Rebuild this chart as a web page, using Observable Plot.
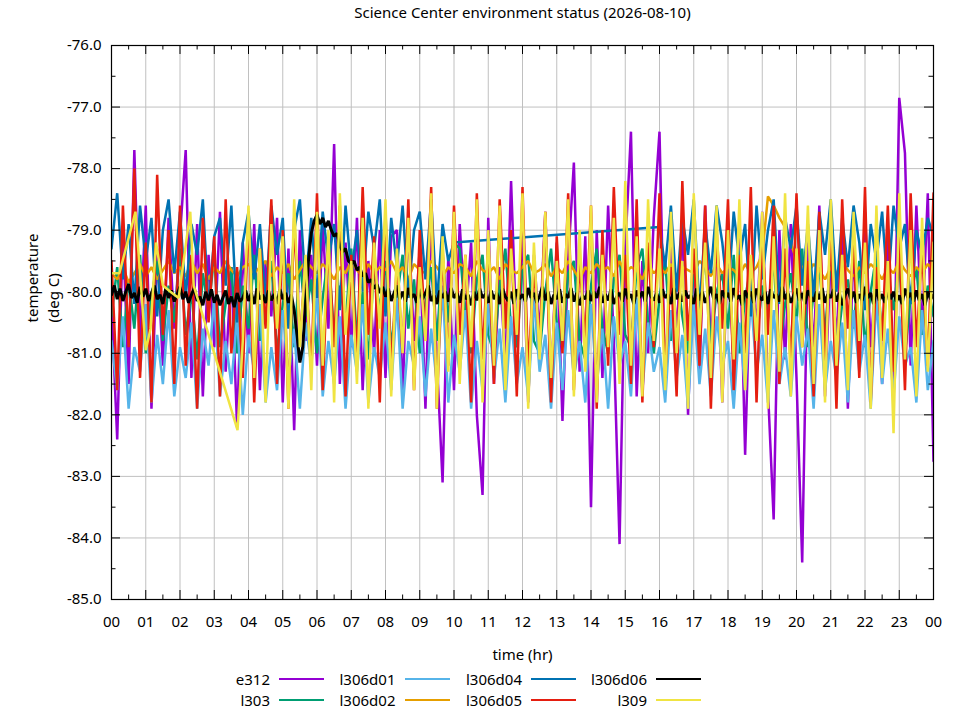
<!DOCTYPE html>
<html><head><meta charset="utf-8">
<script src="https://cdn.jsdelivr.net/npm/d3@7"></script>
<script src="https://cdn.jsdelivr.net/npm/@observablehq/plot@0.6"></script>
<style>
body{margin:0;background:#fff;font-family:"Noto Sans",sans-serif;}
#wrap{position:relative;width:960px;height:720px;overflow:hidden;}
.lg{position:absolute;font-size:15px;line-height:20px;color:#000;text-align:right;white-space:nowrap;}
.sw{position:absolute;height:2px;}
</style></head><body><div id="wrap"></div>
<script>
// hour grids: samples every 10 minutes (most sensors) and every 5 minutes (l306d06)
const hoursGrid = d3.range(0, 145).map(i => i / 6);
const hoursFine = d3.range(0, 289).map(i => i / 12);
const xTicks = d3.range(0, 25);
const yTicks = d3.range(-85, -75);

const seriesNames = ["e312", "l303", "l306d01", "l306d02", "l306d04", "l306d05", "l306d06", "l309"];
const seriesColors = ["#9400d3", "#009e73", "#56b4e9", "#e69f00", "#0072b2", "#e51e10", "#000000", "#f0e442"];
const seriesWidths = [2.5, 2.5, 2.5, 2.5, 2.5, 2.5, 3, 2.5];

const e312 = [
-80.2,-82.4,-79.0,-81.5,-77.7,-80.8,-78.6,-81.9,-79.3,-81.2,-78.8,-80.6,
-79.1,-77.7,-81.4,-78.9,-81.7,-79.4,-80.9,-78.7,-81.3,-79.6,-82.2,-79.2,
-81.0,-78.9,-81.6,-79.5,-80.4,-78.8,-81.8,-79.3,-82.25,-79.0,-80.8,-79.4,
-81.2,-78.9,-80.6,-77.6,-81.5,-79.2,-80.9,-78.8,-81.6,-79.5,-81.0,-79.0,
-81.4,-79.1,-79.0,-81.7,-78.9,-80.8,-79.3,-81.9,-78.7,-81.1,-83.1,-79.4,
-81.6,-78.9,-80.5,-79.2,-82.0,-83.3,-78.8,-81.5,-79.6,-81.2,-78.2,-80.9,
-79.0,-81.8,-79.4,-80.7,-78.7,-81.6,-79.2,-82.1,-79.5,-77.9,-81.3,-79.1,
-83.5,-79.0,-81.4,-78.6,-80.8,-84.1,-79.3,-77.4,-81.7,-79.5,-81.0,-78.8,
-77.4,-81.5,-79.2,-80.7,-78.9,-82.0,-79.4,-81.3,-78.6,-80.9,-79.1,-81.8,
-79.3,-81.2,-78.8,-82.65,-79.5,-80.6,-78.7,-81.6,-83.7,-79.0,-81.1,-78.9,
-81.4,-84.4,-79.2,-81.0,-78.6,-81.7,-79.4,-80.8,-78.9,-81.9,-79.3,-81.2,
-78.7,-80.9,-79.6,-81.5,-79.0,-81.8,-76.85,-77.75,-81.2,-78.6,-80.7,-78.4,
-82.75];

const l303 = [
-80.4,-79.6,-80.9,-79.8,-80.6,-79.4,-81.0,-80.1,-79.5,-80.8,-79.9,-80.5,
-79.3,-80.7,-80.0,-81.1,-79.7,-80.3,-79.4,-80.9,-80.2,-79.6,-81.0,-79.9,
-80.6,-79.4,-80.8,-80.0,-79.5,-81.0,-80.2,-79.7,-80.9,-79.5,-80.4,-79.8,
-81.0,-80.1,-79.4,-80.7,-79.9,-80.5,-79.3,-80.8,-80.0,-81.1,-79.6,-80.3,
-79.5,-80.9,-80.1,-79.4,-80.6,-79.8,-81.0,-80.2,-79.6,-80.8,-79.4,-80.5,
-79.2,-79.3,-80.4,-81.0,-79.8,-79.4,-80.7,-81.0,-79.9,-79.3,-80.6,-80.9,
-79.6,-79.4,-80.8,-81.0,-80.0,-79.3,-80.5,-80.9,-79.7,-79.5,-80.8,-81.1,
-79.9,-79.3,-80.6,-81.0,-79.8,-79.4,-80.7,-80.9,-79.6,-79.3,-80.5,-81.0,
-80.1,-79.5,-80.8,-79.7,-80.4,-81.0,-79.6,-80.2,-79.4,-80.9,-80.0,-79.7,
-80.6,-79.4,-81.0,-80.1,-79.6,-80.8,-79.9,-80.3,-79.5,-81.0,-80.2,-79.7,
-80.5,-79.3,-80.9,-80.0,-79.6,-80.7,-79.4,-81.0,-80.2,-79.8,-80.6,-79.5,
-80.9,-80.0,-79.4,-80.8,-79.7,-80.3,-79.5,-81.0,-80.1,-79.6,-80.7,-79.9,
-80.4];

const l306d01 = [
-80.8,-81.6,-80.4,-81.9,-80.9,-81.3,-80.2,-81.8,-80.7,-81.5,-80.3,-81.7,
-80.9,-81.4,-80.5,-81.9,-80.6,-81.2,-80.1,-81.7,-80.8,-81.5,-80.4,-82.0,
-80.7,-81.3,-80.2,-81.8,-80.9,-81.6,-80.3,-81.4,-80.6,-81.9,-80.5,-81.2,
-80.0,-81.7,-80.8,-81.5,-80.4,-81.9,-80.7,-81.3,-80.2,-81.8,-80.9,-81.4,
-80.5,-81.6,-80.1,-81.9,-80.8,-81.2,-80.4,-81.7,-80.6,-81.5,-79.9,-81.8,
-80.7,-81.3,-80.3,-81.9,-80.8,-81.6,-80.2,-81.4,-80.6,-81.8,-80.4,-81.5,
-80.9,-81.7,-80.1,-81.3,-80.7,-81.9,-80.5,-81.6,-80.3,-81.4,-80.8,-81.8,
-80.2,-81.5,-80.6,-81.9,-80.4,-81.2,-80.8,-81.7,-80.1,-81.6,-80.5,-81.3,
-80.9,-81.8,-80.3,-81.4,-80.7,-81.9,-80.2,-81.5,-80.6,-81.7,-80.4,-81.2,
-80.8,-81.9,-80.5,-81.6,-80.1,-81.3,-80.7,-81.8,-80.3,-81.5,-80.9,-81.7,
-80.4,-81.2,-80.6,-81.9,-80.2,-81.6,-80.8,-81.4,-80.5,-81.8,-80.3,-81.3,
-80.7,-81.9,-80.1,-81.5,-80.6,-81.7,-80.4,-81.2,-80.9,-81.8,-80.3,-81.6,
-80.8];

const l306d02 = [
-79.7,-79.8,-79.6,-79.85,-79.7,-79.55,-79.75,-79.6,-79.8,-79.65,-79.5,-79.7,
-79.6,-79.75,-79.5,-79.7,-79.55,-79.8,-79.6,-79.7,-79.5,-79.65,-79.75,-79.6,
-79.55,-79.7,-79.6,-79.5,-79.75,-79.6,-79.7,-79.55,-79.8,-79.65,-79.5,-79.6,
-79.7,-79.55,-79.65,-79.8,-79.6,-79.7,-79.5,-79.65,-79.75,-79.55,-79.7,-79.6,
-79.65,-79.5,-79.7,-79.6,-79.8,-79.55,-79.65,-79.7,-79.5,-79.6,-79.75,-79.6,
-79.7,-79.55,-79.6,-79.75,-79.5,-79.65,-79.7,-79.6,-79.8,-79.55,-79.65,-79.7,
-79.6,-79.5,-79.7,-79.65,-79.55,-79.75,-79.6,-79.7,-79.5,-79.65,-79.8,-79.6,
-79.7,-79.55,-79.65,-79.6,-79.75,-79.5,-79.7,-79.6,-79.65,-79.8,-79.55,-79.7,
-79.6,-79.7,-79.55,-79.75,-79.6,-79.65,-79.7,-79.5,-79.6,-79.75,-79.55,-79.7,
-79.6,-79.65,-79.75,-79.55,-79.7,-79.6,-79.4,-78.45,-78.6,-78.8,-78.95,-79.2,
-79.5,-79.6,-79.7,-79.55,-79.65,-79.8,-79.6,-79.7,-79.5,-79.65,-79.75,-79.6,
-79.7,-79.55,-79.65,-79.8,-79.6,-79.7,-79.5,-79.65,-79.75,-79.6,-79.7,-79.55,
-79.65];

// l306d04 has no data between 10:00 and 16:00
const l306d04Hours = hoursGrid.slice(0, 61).concat(hoursGrid.slice(96));
const l306d04 = [
-79.3,-78.4,-79.8,-78.9,-80.2,-78.6,-79.5,-78.8,-80.4,-79.0,-78.5,-79.7,
-78.7,-80.1,-78.9,-79.4,-78.5,-80.3,-79.1,-78.8,-79.9,-78.6,-80.5,-79.2,
-78.7,-79.8,-78.9,-80.2,-78.6,-79.4,-78.8,-80.6,-79.0,-78.5,-79.9,-78.8,
-80.1,-78.7,-79.5,-78.9,-80.3,-78.6,-79.7,-79.0,-80.0,-78.7,-79.3,-78.5,
-80.4,-78.8,-79.6,-78.6,-80.1,-79.0,-78.7,-79.8,-78.5,-80.2,-78.9,-79.5,
-79.2,
-78.95,-79.6,-78.6,-80.0,-78.8,-79.4,-78.5,-80.3,-78.9,-79.7,-78.6,-79.2,
-80.1,-78.7,-79.5,-78.9,-80.4,-78.6,-79.8,-79.0,-78.5,-80.2,-78.8,-79.3,
-78.6,-79.9,-78.9,-80.1,-78.7,-79.4,-78.5,-80.0,-78.8,-79.6,-78.6,-79.2,
-80.3,-78.9,-79.5,-78.7,-80.0,-78.6,-79.3,-78.9,-80.2,-79.0,-79.4,-78.8,
-79.1];

const l306d05 = [
-79.5,-81.6,-78.6,-80.9,-78.0,-81.4,-79.2,-81.8,-78.1,-80.7,-79.0,-81.5,
-78.6,-81.2,-79.4,-81.9,-78.8,-80.5,-79.1,-81.7,-78.5,-81.0,-79.6,-81.4,
-78.7,-81.8,-79.3,-80.6,-78.5,-81.5,-79.0,-81.9,-78.8,-80.8,-79.5,-81.3,
-78.4,-81.6,-79.2,-80.9,-78.6,-81.7,-79.4,-81.1,-78.3,-80.7,-79.1,-81.8,
-78.7,-81.3,-79.5,-81.0,-78.5,-81.6,-79.0,-80.8,-78.3,-81.9,-79.3,-81.2,
-78.6,-80.7,-79.4,-81.8,-78.4,-81.1,-79.2,-81.5,-78.5,-80.6,-79.0,-81.7,
-78.3,-81.3,-79.6,-80.9,-78.7,-81.8,-79.1,-81.0,-78.4,-81.6,-79.5,-80.8,
-78.6,-81.9,-79.0,-81.2,-78.3,-80.7,-79.4,-81.5,-78.5,-81.8,-79.2,-80.9,
-78.4,-81.4,-79.6,-81.7,-78.2,-80.8,-79.3,-81.2,-78.6,-81.9,-79.0,-80.6,
-78.5,-81.6,-79.4,-81.0,-78.3,-81.8,-79.1,-80.7,-78.6,-81.5,-79.3,-81.2,
-78.4,-80.9,-79.5,-81.7,-78.7,-81.1,-79.0,-81.9,-78.5,-80.6,-79.2,-81.4,
-78.3,-81.8,-79.6,-80.8,-78.6,-81.3,-79.1,-81.6,-78.4,-80.9,-79.3,-81.2,
-78.4];

// 5-minute samples
const l306d06 = [
-80.05,-79.9,-80.12,-79.95,-80.15,-80.0,-79.88,-80.1,-80.02,-80.18,-79.92,-80.08,
-79.95,-80.15,-80.02,-79.9,-80.12,-80.05,-80.2,-79.95,-80.1,-79.98,-80.16,-80.04,
-79.92,-80.12,-80.0,-80.18,-80.05,-79.94,-80.15,-80.08,-80.22,-80.0,-80.14,-79.96,
-80.18,-80.05,-80.22,-80.1,-79.98,-80.2,-80.08,-80.25,-80.02,-80.16,-80.1,-79.98,
-80.15,-80.02,-80.2,-79.95,-80.12,-80.05,-80.18,-79.98,-80.14,-80.04,-80.2,-79.96,
-80.12,-80.02,-80.18,-80.05,-80.3,-80.7,-81.15,-80.9,-80.2,-79.5,-79.05,-78.85,
-78.75,-78.9,-78.8,-78.95,-78.85,-79.0,-79.1,-79.05,-79.25,-79.35,-79.3,-79.5,
-79.55,-79.5,-79.65,-79.6,-79.75,-79.7,-79.85,-79.8,-79.95,-79.88,-80.02,-79.92,
-80.08,-79.95,-80.15,-80.02,-79.9,-80.12,-80.0,-80.16,-79.94,-80.1,-80.04,-80.18,
-79.96,-80.12,-80.02,-79.9,-80.15,-80.06,-80.2,-79.98,-80.1,-80.0,-80.16,-79.94,
-80.1,-80.02,-80.18,-79.96,-80.12,-80.05,-80.22,-80.0,-80.14,-79.95,-80.1,-80.04,
-80.18,-79.98,-80.12,-80.02,-80.2,-79.95,-80.08,-80.15,-80.0,-80.2,-79.96,-80.12,
-80.04,-80.16,-79.94,-80.1,-80.02,-80.18,-80.06,-79.92,-80.14,-80.0,-80.2,-80.05,
-80.12,-79.96,-80.18,-80.04,-80.1,-79.94,-80.16,-80.02,-80.22,-80.06,-80.12,-79.98,
-80.15,-80.0,-80.1,-79.92,-80.18,-80.04,-80.14,-79.96,-80.2,-80.08,-80.02,-80.16,
-79.95,-80.12,-80.04,-80.2,-79.98,-80.1,-80.0,-80.16,-79.92,-80.08,-80.14,-80.02,
-80.18,-79.96,-80.1,-80.04,-80.2,-79.94,-80.12,-80.02,-80.16,-79.98,-80.1,-80.06,
-80.2,-79.95,-80.14,-80.0,-80.18,-80.06,-79.92,-80.12,-80.04,-80.2,-79.98,-80.1,
-80.02,-80.16,-79.94,-80.12,-80.06,-80.22,-79.98,-80.1,-80.0,-80.18,-79.95,-80.08,
-80.14,-80.0,-80.2,-79.96,-80.1,-80.04,-80.16,-79.92,-80.12,-80.02,-80.18,-80.06,
-79.95,-80.14,-80.02,-80.2,-79.98,-80.08,-80.16,-80.0,-80.12,-79.94,-80.18,-80.04,
-80.1,-79.96,-80.16,-80.02,-80.22,-80.06,-79.95,-80.12,-80.0,-80.18,-80.04,-80.14,
-79.92,-80.1,-80.02,-80.2,-79.96,-80.14,-80.04,-80.18,-79.98,-80.12,-80.0,-80.16,
-80.06,-80.2,-79.95,-80.1,-80.02,-80.16,-79.98,-80.14,-80.04,-80.22,-80.0,-80.12,
-80.05];

// l309 is sparse before ~03:50
const l309Hours = [0, 0.23, 0.7, 1.0, 1.14, 1.3, 1.5, 1.72, 1.96, 2.3, 2.4, 3.68].concat(hoursGrid.slice(23));
const l309 = [
-79.7,-79.7,-78.7,-80.95,-80.6,-79.2,-79.9,-80.0,-80.1,-78.7,-79.9,-82.25,
-80.8,
-78.6,-81.4,-79.3,-81.8,-78.9,-80.6,-79.1,-81.9,-78.5,-80.9,-79.4,-81.6,
-78.7,-81.2,-79.0,-81.8,-78.4,-80.7,-79.5,-81.5,-78.8,-81.9,-79.2,-80.6,
-78.5,-81.7,-79.3,-81.0,-78.8,-81.6,-79.6,-80.8,-78.4,-81.9,-79.1,-81.3,
-78.7,-81.5,-79.4,-80.9,-78.5,-81.8,-79.0,-81.2,-78.6,-81.6,-79.3,-80.7,
-78.4,-81.9,-79.2,-81.1,-78.7,-81.4,-79.5,-80.8,-78.5,-81.7,-79.0,-81.3,
-78.6,-81.8,-79.4,-80.9,-78.8,-81.5,-78.2,-81.2,-79.1,-81.7,-78.5,-80.8,
-79.3,-81.6,-78.7,-81.0,-79.5,-81.9,-78.4,-80.7,-79.2,-81.4,-78.6,-81.8,
-79.0,-81.1,-78.5,-81.6,-79.4,-80.8,-78.7,-81.9,-79.1,-81.3,-78.4,-81.7,
-79.3,-80.9,-78.6,-81.5,-79.0,-81.8,-78.5,-81.2,-79.4,-81.6,-78.7,-80.8,
-79.2,-81.9,-78.6,-81.4,-79.5,-82.3,-78.4,-81.1,-79.0,-81.7,-78.8,-81.3,
-79.2];

const seriesValues = [e312, l303, l306d01, l306d02, l306d04, l306d05, l306d06, l309];
const seriesHours = [hoursGrid, hoursGrid, hoursGrid, hoursGrid, l306d04Hours, hoursGrid, hoursFine, l309Hours];

const W = 960, H = 720, mt = 45, mr = 27, mb = 121, ml = 111;
const fw = W - ml - mr, fh = H - mt - mb;

const lineMarks = seriesValues.map((vals, k) => {
  const data = vals.map((v, i) => ({t: seriesHours[k][i], v})).filter(d => d.t != null);
  return Plot.line(data, {x: "t", y: "v", stroke: seriesColors[k], strokeWidth: seriesWidths[k], strokeLinejoin: "miter", clip: true});
});

const halfX = d3.range(0.5, 24, 1);
const halfY = d3.range(-84.5, -76, 1);

const chart = Plot.plot({
  width: W, height: H,
  marginTop: mt, marginRight: mr, marginBottom: mb, marginLeft: ml,
  style: {fontFamily: '"Noto Sans", sans-serif', fontSize: "15px", background: "#fff", color: "#000"},
  x: {domain: [0, 24]},
  y: {domain: [-85, -76]},
  marks: [
    Plot.ruleX(d3.range(1, 24), {stroke: "#c0c0c0", strokeWidth: 1}),
    Plot.ruleY(d3.range(-84, -76), {stroke: "#c0c0c0", strokeWidth: 1}),
    ...lineMarks,
    // inward ticks (major + minor) on all four sides
    Plot.tickX(xTicks, {x: d => d, insetTop: fh - 9, stroke: "#000"}),
    Plot.tickX(xTicks, {x: d => d, insetBottom: fh - 9, stroke: "#000"}),
    Plot.tickX(halfX, {x: d => d, insetTop: fh - 4.5, stroke: "#000"}),
    Plot.tickX(halfX, {x: d => d, insetBottom: fh - 4.5, stroke: "#000"}),
    Plot.tickY(yTicks, {y: d => d, insetRight: fw - 9, stroke: "#000"}),
    Plot.tickY(yTicks, {y: d => d, insetLeft: fw - 9, stroke: "#000"}),
    Plot.tickY(halfY, {y: d => d, insetRight: fw - 4.5, stroke: "#000"}),
    Plot.tickY(halfY, {y: d => d, insetLeft: fw - 4.5, stroke: "#000"}),
    Plot.frame({stroke: "#000", strokeWidth: 1.2}),
    Plot.axisX({ticks: xTicks, tickSize: 0, tickPadding: 17, label: null,
      tickFormat: d => String(d % 24).padStart(2, "0"), fontSize: 15}),
    Plot.axisY({ticks: yTicks, tickSize: 0, tickPadding: 10, label: null,
      tickFormat: d => d.toFixed(1), fontSize: 15}),
    Plot.text(["Science Center environment status (2026-08-10)"], {frameAnchor: "top", dy: -32.5, lineAnchor: "middle", fontSize: 15}),
    Plot.text(["time (hr)"], {frameAnchor: "bottom", dy: 56, lineAnchor: "middle", fontSize: 15}),
    Plot.text(["temperature\n(deg C)"], {frameAnchor: "left", dx: -70, rotate: -90, lineAnchor: "middle", lineHeight: 1.45, fontSize: 15})
  ]
});

const wrap = document.getElementById("wrap");
wrap.appendChild(chart);

// legend (gnuplot style: label then line sample, column-major, 2 rows)
const colRight = [270, 395.5, 522, 647];
const rowY = [679, 700];
seriesNames.forEach((name, k) => {
  const col = Math.floor(k / 2), row = k % 2;
  const lab = document.createElement("div");
  lab.className = "lg";
  lab.textContent = name;
  lab.style.right = (W - colRight[col]) + "px";
  lab.style.top = (rowY[row] - 10) + "px";
  wrap.appendChild(lab);
  const sw = document.createElement("div");
  sw.className = "sw";
  sw.style.left = (colRight[col] + 9) + "px";
  sw.style.width = "45px";
  sw.style.top = (rowY[row] - 1) + "px";
  sw.style.background = seriesColors[k];
  wrap.appendChild(sw);
});
</script>
</body></html>
